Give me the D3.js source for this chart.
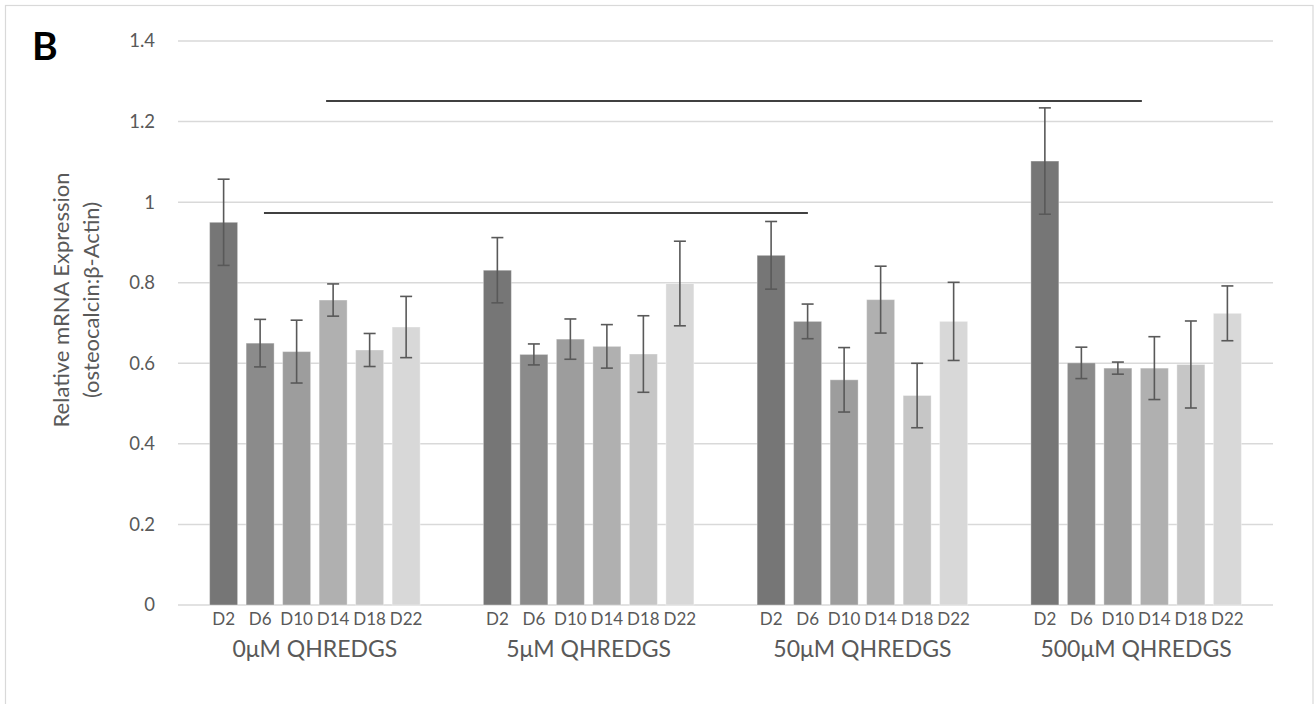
<!DOCTYPE html>
<html>
<head>
<meta charset="utf-8">
<script src="https://cdn.jsdelivr.net/npm/d3@7"></script>
<style>
  html, body { margin: 0; padding: 0; background: #ffffff; }
  svg { display: block; }
  text { font-family: Lato, "Open Sans", sans-serif; }
</style>
</head>
<body>
<svg id="chart" width="1316" height="704"></svg>
<script>
// ---- data ----
const groups = ["0μM QHREDGS", "5μM QHREDGS", "50μM QHREDGS", "500μM QHREDGS"];
const days = ["D2", "D6", "D10", "D14", "D18", "D22"];
const means0uM   = [0.950, 0.650, 0.629, 0.757, 0.633, 0.690];
const means5uM   = [0.831, 0.622, 0.660, 0.642, 0.623, 0.798];
const means50uM  = [0.868, 0.704, 0.559, 0.758, 0.520, 0.704];
const means500uM = [1.102, 0.601, 0.588, 0.588, 0.597, 0.724];
const err0uM   = [0.107, 0.059, 0.078, 0.040, 0.041, 0.076];
const err5uM   = [0.081, 0.026, 0.050, 0.054, 0.095, 0.105];
const err50uM  = [0.084, 0.043, 0.080, 0.083, 0.080, 0.097];
const err500uM = [0.132, 0.039, 0.015, 0.078, 0.108, 0.068];
const yTicks = [0, 0.2, 0.4, 0.6, 0.8, 1, 1.2, 1.4];
const yTickLabels = ["0", "0.2", "0.4", "0.6", "0.8", "1", "1.2", "1.4"];
// significance lines: value level, start/end in group-position units (0..4)
const sigLevels = [0.973, 1.251];
const sigFrom = [0.314, 0.541];
const sigTo = [2.301, 3.521];
const panelLetter = "B";
const yTitleLines = ["Relative mRNA Expression", "(osteocalcin:β-Actin)"];
const dayColors = ["#767676", "#8b8b8b", "#9d9d9d", "#b0b0b0", "#c6c6c6", "#d8d8d8"];

const meansByGroup = [means0uM, means5uM, means50uM, means500uM];
const errByGroup = [err0uM, err5uM, err50uM, err500uM];

// ---- layout ----
const svg = d3.select("#chart");
const plot = { left: 178, right: 1273, top: 41, bottom: 605 };

svg.append("rect")
  .attr("x", 5.5).attr("y", 5.5)
  .attr("width", 1307.5).attr("height", 720)
  .attr("fill", "#ffffff").attr("stroke", "#d9d9d9").attr("stroke-width", 1.2);

const y = d3.scaleLinear().domain([0, 1.4]).range([plot.bottom, plot.top]);
const x0 = d3.scaleBand().domain(groups).range([plot.left, plot.right]).paddingInner(0).paddingOuter(0);
const x1 = d3.scaleBand().domain(days).range([0, x0.bandwidth()]).paddingInner(0.233).paddingOuter(0.866);
const xPos = d3.scaleLinear().domain([0, groups.length]).range([plot.left, plot.right]);

// gridlines
svg.append("g").selectAll("line").data(yTicks).join("line")
  .attr("x1", plot.left).attr("x2", plot.right)
  .attr("y1", d => y(d)).attr("y2", d => y(d))
  .attr("stroke", "#d9d9d9").attr("stroke-width", 1.5);

// y tick labels
const yAxis = d3.axisLeft(y).tickValues(yTicks)
  .tickFormat((d, i) => yTickLabels[i]).tickSize(0).tickPadding(0);
const yg = svg.append("g").attr("transform", `translate(155,0)`).call(yAxis);
yg.select(".domain").remove();
yg.selectAll("text")
  .attr("font-size", 18.5).attr("fill", "#595959");

// bars
const rows = [];
groups.forEach((g, gi) => {
  days.forEach((d, di) => {
    rows.push({ g, d, di, v: meansByGroup[gi][di], e: errByGroup[gi][di] });
  });
});

svg.append("g").selectAll("rect").data(rows).join("rect")
  .attr("x", r => x0(r.g) + x1(r.d))
  .attr("y", r => y(r.v))
  .attr("width", x1.bandwidth())
  .attr("height", r => y(0) - y(r.v))
  .attr("fill", r => dayColors[r.di])
  .attr("stroke", "rgba(255,255,255,0.35)")
  .attr("stroke-width", 1);

// error bars
const cap = 6;
const eg = svg.append("g").attr("stroke", "#595959").attr("stroke-width", 1.6);
rows.forEach(r => {
  const cx = x0(r.g) + x1(r.d) + x1.bandwidth() / 2;
  eg.append("line").attr("x1", cx).attr("x2", cx).attr("y1", y(r.v + r.e)).attr("y2", y(r.v - r.e));
  eg.append("line").attr("x1", cx - cap).attr("x2", cx + cap).attr("y1", y(r.v + r.e)).attr("y2", y(r.v + r.e));
  eg.append("line").attr("x1", cx - cap).attr("x2", cx + cap).attr("y1", y(r.v - r.e)).attr("y2", y(r.v - r.e));
});

// category labels
svg.append("g").selectAll("text").data(rows).join("text")
  .attr("x", r => x0(r.g) + x1(r.d) + x1.bandwidth() / 2)
  .attr("y", 625)
  .attr("text-anchor", "middle")
  .attr("font-size", 17).attr("fill", "#595959")
  .text(r => r.d);

svg.append("g").selectAll("text").data(groups).join("text")
  .attr("x", g => x0(g) + x0.bandwidth() / 2)
  .attr("y", 657)
  .attr("text-anchor", "middle")
  .attr("font-size", 23).attr("fill", "#595959")
  .text(g => g);

// significance lines
svg.append("g").selectAll("line").data(sigLevels).join("line")
  .attr("x1", (d, i) => xPos(sigFrom[i])).attr("x2", (d, i) => xPos(sigTo[i]))
  .attr("y1", d => y(d)).attr("y2", d => y(d))
  .attr("stroke", "#000000").attr("stroke-width", 1.4);

// y title
const yt = svg.append("text")
  .attr("transform", "translate(69,300) rotate(-90)")
  .attr("text-anchor", "middle")
  .attr("font-size", 22).attr("fill", "#595959");
yt.append("tspan").attr("x", 0).attr("y", 0).text(yTitleLines[0]);
yt.append("tspan").attr("x", 0).attr("y", 30).text(yTitleLines[1]);

// panel letter
svg.append("text")
  .attr("x", 32).attr("y", 60)
  .attr("font-size", 39).attr("font-weight", "bold").attr("fill", "#000000")
  .text(panelLetter);
</script>
</body>
</html>
